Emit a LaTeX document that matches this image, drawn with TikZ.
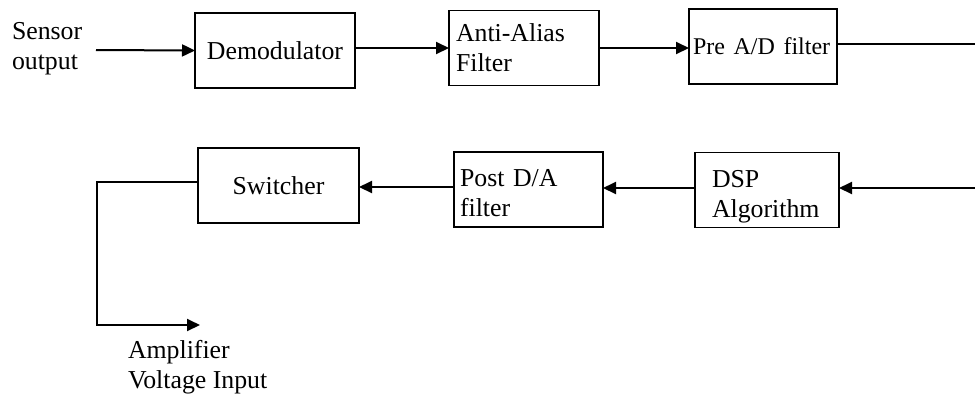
\documentclass[tikz,border=0pt]{standalone}
\usepackage{fontspec}
\setmainfont{Liberation Serif}
\usetikzlibrary{arrows.meta}
\begin{document}
\begin{tikzpicture}[x=0.5pt, y=-0.5pt,
        every node/.style={font=\fontsize{12.9}{15}\selectfont, inner sep=0pt, outer sep=0pt},
        blockbox/.style={draw, line width=0.8pt, minimum height=37.5pt},
        sig/.style={line width=1pt},
        sigarrow/.style={sig, -{Triangle[length=6.5pt, width=6pt]}}]
        \useasboundingbox (0,0) rectangle (975,398);
        % Define nodes of the first row
        \node[align=left, anchor=west] (sensor) at (12,49) {Sensor\\output};
        \node[blockbox, minimum width=80pt] (demod) at (275,50.5) {Demodulator};
        \node[blockbox, text width=68pt, inner xsep=3.5pt, align=left] (antialias) at (524,48) {Anti-Alias\\Filter};
        \node[blockbox, text width=70pt, inner xsep=2pt, align=left] (prefilt) at (763,46.5) {\fontsize{12}{15}\selectfont\mbox{Pre A/D filter}};
        \coordinate (outtop) at (975,44);
        
        % Define nodes of the second row
        \coordinate (inbot) at (975,188);
        \node[blockbox, text width=55pt, inner xsep=8.5pt, align=left] (dsp) at (767,190) {\rule{0pt}{15pt}DSP\\Algorithm};
        \node[blockbox, text width=68.5pt, inner xsep=3pt, align=left] (postfilt) at (528.5,189.5) {\rule{0pt}{12pt}Post D/A\\filter};
        \node[blockbox, minimum width=80.5pt] (switcher) at (278.5,185.5) {Switcher};
        \coordinate (corner1) at (97,182);
        \coordinate (corner2) at (97,325);
        \coordinate (ampend) at (200,325);
        \node[align=left, anchor=west] (amplifier) at (128,367) {Amplifier\\Voltage Input};
        
        % Define signal connections
        \draw[sigarrow] (96,50) -- (demod.west);
        \draw[sigarrow] (demod.east |- antialias.west) -- (antialias.west);
        \draw[sigarrow] (antialias.east) -- (antialias.east -| prefilt.west);
        \draw[sig] (prefilt.east |- outtop) -- (outtop);
        \draw[sigarrow] (inbot) -- (inbot -| dsp.east);
        \draw[sigarrow] (dsp.west |- inbot) -- (inbot -| postfilt.east);
        \draw[sigarrow] (postfilt.west |- 0,187) -- (switcher.east |- 0,187);
        \draw[sigarrow] (switcher.west |- corner1) -- (corner1) -- (corner2) -- (ampend);
        
    \end{tikzpicture}
\end{document}
